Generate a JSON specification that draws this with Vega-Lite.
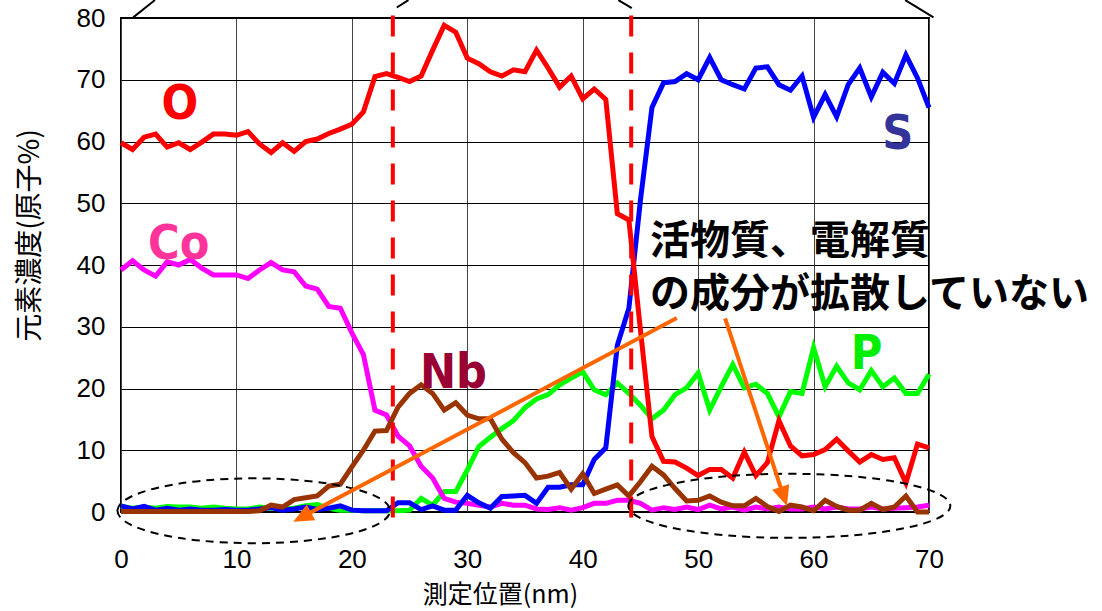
{
"$schema":"https://vega.github.io/schema/vega-lite/v6.json",
"width":808,"height":494,
"autosize":{"type":"none"},
"padding":{"left":121,"top":18,"right":173,"bottom":99},
"background":"white",
"config":{"view":{"stroke":"black","strokeWidth":2},"font":"Liberation Sans"},
"datasets":{
"series":[
{"x":0,"el":"P","v":0.9},{"x":1,"el":"P","v":0.6},{"x":2,"el":"P","v":0.8},{"x":3,"el":"P","v":0.6},{"x":4,"el":"P","v":0.9},{"x":5,"el":"P","v":0.8},{"x":6,"el":"P","v":0.8},{"x":7,"el":"P","v":0.6},{"x":8,"el":"P","v":0.8},{"x":9,"el":"P","v":0.6},
{"x":10,"el":"P","v":0.5},{"x":11,"el":"P","v":0.5},{"x":12,"el":"P","v":0.8},{"x":13,"el":"P","v":0.6},{"x":14,"el":"P","v":0.5},{"x":15,"el":"P","v":0.6},{"x":16,"el":"P","v":1.0},{"x":17,"el":"P","v":1.2},{"x":18,"el":"P","v":0.6},{"x":19,"el":"P","v":0.3},
{"x":20,"el":"P","v":0.3},{"x":21,"el":"P","v":0.2},{"x":22,"el":"P","v":0.2},{"x":23,"el":"P","v":0.2},{"x":24,"el":"P","v":0.2},{"x":25,"el":"P","v":0.3},{"x":26,"el":"P","v":2.2},{"x":27,"el":"P","v":1.1},{"x":28,"el":"P","v":3.3},{"x":29,"el":"P","v":3.3},
{"x":30,"el":"P","v":6.8},{"x":31,"el":"P","v":10.6},{"x":32,"el":"P","v":12.1},{"x":33,"el":"P","v":13.5},{"x":34,"el":"P","v":14.8},{"x":35,"el":"P","v":16.9},{"x":36,"el":"P","v":18.3},{"x":37,"el":"P","v":19.0},{"x":38,"el":"P","v":20.6},{"x":39,"el":"P","v":21.7},
{"x":40,"el":"P","v":22.7},{"x":41,"el":"P","v":19.8},{"x":42,"el":"P","v":19.0},{"x":43,"el":"P","v":20.9},{"x":44,"el":"P","v":19.2},{"x":45,"el":"P","v":17.3},{"x":46,"el":"P","v":15.1},{"x":47,"el":"P","v":16.5},{"x":48,"el":"P","v":19.0},{"x":49,"el":"P","v":20.1},
{"x":50,"el":"P","v":22.5},{"x":51,"el":"P","v":16.5},{"x":52,"el":"P","v":20.3},{"x":53,"el":"P","v":23.9},{"x":54,"el":"P","v":20.1},{"x":55,"el":"P","v":20.7},{"x":56,"el":"P","v":19.2},{"x":57,"el":"P","v":15.4},{"x":58,"el":"P","v":19.5},{"x":59,"el":"P","v":19.2},
{"x":60,"el":"P","v":26.6},{"x":61,"el":"P","v":20.3},{"x":62,"el":"P","v":23.6},{"x":63,"el":"P","v":20.9},{"x":64,"el":"P","v":19.8},{"x":65,"el":"P","v":22.9},{"x":66,"el":"P","v":20.3},{"x":67,"el":"P","v":21.7},{"x":68,"el":"P","v":19.2},{"x":69,"el":"P","v":19.2},{"x":70,"el":"P","v":22.3},
{"x":0,"el":"Co","v":39.2},{"x":1,"el":"Co","v":40.7},{"x":2,"el":"Co","v":39.2},{"x":3,"el":"Co","v":38.2},{"x":4,"el":"Co","v":40.5},{"x":5,"el":"Co","v":40.0},{"x":6,"el":"Co","v":40.9},{"x":7,"el":"Co","v":39.5},{"x":8,"el":"Co","v":38.4},{"x":9,"el":"Co","v":38.4},
{"x":10,"el":"Co","v":38.4},{"x":11,"el":"Co","v":37.8},{"x":12,"el":"Co","v":39.2},{"x":13,"el":"Co","v":40.4},{"x":14,"el":"Co","v":39.2},{"x":15,"el":"Co","v":38.9},{"x":16,"el":"Co","v":36.6},{"x":17,"el":"Co","v":36.1},{"x":18,"el":"Co","v":33.3},{"x":19,"el":"Co","v":33.0},
{"x":20,"el":"Co","v":29.0},{"x":21,"el":"Co","v":25.5},{"x":22,"el":"Co","v":16.5},{"x":23,"el":"Co","v":15.7},{"x":24,"el":"Co","v":12.3},{"x":25,"el":"Co","v":10.7},{"x":26,"el":"Co","v":7.4},{"x":27,"el":"Co","v":5.5},{"x":28,"el":"Co","v":2.2},{"x":29,"el":"Co","v":1.6},
{"x":30,"el":"Co","v":1.4},{"x":31,"el":"Co","v":1.1},{"x":32,"el":"Co","v":0.8},{"x":33,"el":"Co","v":1.4},{"x":34,"el":"Co","v":1.1},{"x":35,"el":"Co","v":1.1},{"x":36,"el":"Co","v":0.5},{"x":37,"el":"Co","v":0.4},{"x":38,"el":"Co","v":0.7},{"x":39,"el":"Co","v":0.3},
{"x":40,"el":"Co","v":0.7},{"x":41,"el":"Co","v":1.4},{"x":42,"el":"Co","v":1.4},{"x":43,"el":"Co","v":1.9},{"x":44,"el":"Co","v":1.9},{"x":45,"el":"Co","v":1.4},{"x":46,"el":"Co","v":0.3},{"x":47,"el":"Co","v":0.7},{"x":48,"el":"Co","v":0.4},{"x":49,"el":"Co","v":0.8},
{"x":50,"el":"Co","v":0.4},{"x":51,"el":"Co","v":1.1},{"x":52,"el":"Co","v":0.5},{"x":53,"el":"Co","v":0.8},{"x":54,"el":"Co","v":0.3},{"x":55,"el":"Co","v":0.8},{"x":56,"el":"Co","v":0.5},{"x":57,"el":"Co","v":0.8},{"x":58,"el":"Co","v":0.5},{"x":59,"el":"Co","v":0.5},
{"x":60,"el":"Co","v":0.8},{"x":61,"el":"Co","v":0.5},{"x":62,"el":"Co","v":0.8},{"x":63,"el":"Co","v":0.5},{"x":64,"el":"Co","v":0.5},{"x":65,"el":"Co","v":0.8},{"x":66,"el":"Co","v":0.5},{"x":67,"el":"Co","v":0.6},{"x":68,"el":"Co","v":0.7},{"x":69,"el":"Co","v":0.8},{"x":70,"el":"Co","v":1.1},
{"x":0,"el":"S","v":1.0},{"x":1,"el":"S","v":0.5},{"x":2,"el":"S","v":0.9},{"x":3,"el":"S","v":0.3},{"x":4,"el":"S","v":0.6},{"x":5,"el":"S","v":0.3},{"x":6,"el":"S","v":0.5},{"x":7,"el":"S","v":0.3},{"x":8,"el":"S","v":0.3},{"x":9,"el":"S","v":0.4},
{"x":10,"el":"S","v":0.3},{"x":11,"el":"S","v":0.3},{"x":12,"el":"S","v":0.5},{"x":13,"el":"S","v":0.7},{"x":14,"el":"S","v":0.3},{"x":15,"el":"S","v":0.5},{"x":16,"el":"S","v":0.8},{"x":17,"el":"S","v":0.4},{"x":18,"el":"S","v":0.6},{"x":19,"el":"S","v":1.0},
{"x":20,"el":"S","v":0.3},{"x":21,"el":"S","v":0.2},{"x":22,"el":"S","v":0.2},{"x":23,"el":"S","v":0.2},{"x":24,"el":"S","v":1.5},{"x":25,"el":"S","v":1.5},{"x":26,"el":"S","v":0.4},{"x":27,"el":"S","v":1.0},{"x":28,"el":"S","v":0.3},{"x":29,"el":"S","v":0.3},
{"x":30,"el":"S","v":2.7},{"x":31,"el":"S","v":1.5},{"x":32,"el":"S","v":0.6},{"x":33,"el":"S","v":2.5},{"x":34,"el":"S","v":2.6},{"x":35,"el":"S","v":2.7},{"x":36,"el":"S","v":1.4},{"x":37,"el":"S","v":4.0},{"x":38,"el":"S","v":4.0},{"x":39,"el":"S","v":4.4},
{"x":40,"el":"S","v":4.4},{"x":41,"el":"S","v":8.5},{"x":42,"el":"S","v":10.4},{"x":43,"el":"S","v":27.0},{"x":44,"el":"S","v":33.0},{"x":45,"el":"S","v":50.5},{"x":46,"el":"S","v":65.5},{"x":47,"el":"S","v":69.5},{"x":48,"el":"S","v":69.7},{"x":49,"el":"S","v":71.0},
{"x":50,"el":"S","v":70.0},{"x":51,"el":"S","v":73.6},{"x":52,"el":"S","v":70.0},{"x":53,"el":"S","v":69.2},{"x":54,"el":"S","v":68.5},{"x":55,"el":"S","v":71.9},{"x":56,"el":"S","v":72.1},{"x":57,"el":"S","v":69.2},{"x":58,"el":"S","v":68.3},{"x":59,"el":"S","v":70.6},
{"x":60,"el":"S","v":63.9},{"x":61,"el":"S","v":67.6},{"x":62,"el":"S","v":64.0},{"x":63,"el":"S","v":69.2},{"x":64,"el":"S","v":71.9},{"x":65,"el":"S","v":67.2},{"x":66,"el":"S","v":71.2},{"x":67,"el":"S","v":69.4},{"x":68,"el":"S","v":74.0},{"x":69,"el":"S","v":70.3},{"x":70,"el":"S","v":65.5},
{"x":0,"el":"Nb","v":0.1},{"x":1,"el":"Nb","v":0.1},{"x":2,"el":"Nb","v":0.1},{"x":3,"el":"Nb","v":0.1},{"x":4,"el":"Nb","v":0.1},{"x":5,"el":"Nb","v":0.1},{"x":6,"el":"Nb","v":0.1},{"x":7,"el":"Nb","v":0.1},{"x":8,"el":"Nb","v":0.1},{"x":9,"el":"Nb","v":0.1},
{"x":10,"el":"Nb","v":0.1},{"x":11,"el":"Nb","v":0.1},{"x":12,"el":"Nb","v":0.2},{"x":13,"el":"Nb","v":1.1},{"x":14,"el":"Nb","v":0.8},{"x":15,"el":"Nb","v":2.0},{"x":16,"el":"Nb","v":2.3},{"x":17,"el":"Nb","v":2.6},{"x":18,"el":"Nb","v":4.2},{"x":19,"el":"Nb","v":4.5},
{"x":20,"el":"Nb","v":7.3},{"x":21,"el":"Nb","v":10.0},{"x":22,"el":"Nb","v":13.1},{"x":23,"el":"Nb","v":13.2},{"x":24,"el":"Nb","v":17.0},{"x":25,"el":"Nb","v":19.2},{"x":26,"el":"Nb","v":20.6},{"x":27,"el":"Nb","v":19.2},{"x":28,"el":"Nb","v":16.5},{"x":29,"el":"Nb","v":17.7},
{"x":30,"el":"Nb","v":15.7},{"x":31,"el":"Nb","v":15.1},{"x":32,"el":"Nb","v":15.1},{"x":33,"el":"Nb","v":11.8},{"x":34,"el":"Nb","v":9.6},{"x":35,"el":"Nb","v":8.0},{"x":36,"el":"Nb","v":5.5},{"x":37,"el":"Nb","v":5.8},{"x":38,"el":"Nb","v":6.4},{"x":39,"el":"Nb","v":3.7},
{"x":40,"el":"Nb","v":6.2},{"x":41,"el":"Nb","v":3.0},{"x":42,"el":"Nb","v":3.7},{"x":43,"el":"Nb","v":4.4},{"x":44,"el":"Nb","v":2.6},{"x":45,"el":"Nb","v":4.9},{"x":46,"el":"Nb","v":7.4},{"x":47,"el":"Nb","v":6.0},{"x":48,"el":"Nb","v":3.8},{"x":49,"el":"Nb","v":1.8},
{"x":50,"el":"Nb","v":1.9},{"x":51,"el":"Nb","v":2.6},{"x":52,"el":"Nb","v":1.6},{"x":53,"el":"Nb","v":1.0},{"x":54,"el":"Nb","v":1.0},{"x":55,"el":"Nb","v":2.2},{"x":56,"el":"Nb","v":0.9},{"x":57,"el":"Nb","v":0.1},{"x":58,"el":"Nb","v":1.1},{"x":59,"el":"Nb","v":0.8},
{"x":60,"el":"Nb","v":0.2},{"x":61,"el":"Nb","v":1.9},{"x":62,"el":"Nb","v":0.9},{"x":63,"el":"Nb","v":0.3},{"x":64,"el":"Nb","v":0.3},{"x":65,"el":"Nb","v":1.4},{"x":66,"el":"Nb","v":0.4},{"x":67,"el":"Nb","v":0.8},{"x":68,"el":"Nb","v":2.6},{"x":69,"el":"Nb","v":0.0},{"x":70,"el":"Nb","v":0.0},
{"x":0,"el":"O","v":59.8},{"x":1,"el":"O","v":58.7},{"x":2,"el":"O","v":60.7},{"x":3,"el":"O","v":61.2},{"x":4,"el":"O","v":59.1},{"x":5,"el":"O","v":59.8},{"x":6,"el":"O","v":58.7},{"x":7,"el":"O","v":59.9},{"x":8,"el":"O","v":61.2},{"x":9,"el":"O","v":61.2},
{"x":10,"el":"O","v":61.0},{"x":11,"el":"O","v":61.6},{"x":12,"el":"O","v":59.6},{"x":13,"el":"O","v":58.2},{"x":14,"el":"O","v":59.8},{"x":15,"el":"O","v":58.4},{"x":16,"el":"O","v":60.0},{"x":17,"el":"O","v":60.4},{"x":18,"el":"O","v":61.3},{"x":19,"el":"O","v":62.0},
{"x":20,"el":"O","v":62.8},{"x":21,"el":"O","v":64.8},{"x":22,"el":"O","v":70.5},{"x":23,"el":"O","v":71.0},{"x":24,"el":"O","v":70.4},{"x":25,"el":"O","v":69.7},{"x":26,"el":"O","v":70.6},{"x":27,"el":"O","v":74.8},{"x":28,"el":"O","v":78.8},{"x":29,"el":"O","v":77.7},
{"x":30,"el":"O","v":73.5},{"x":31,"el":"O","v":72.6},{"x":32,"el":"O","v":71.3},{"x":33,"el":"O","v":70.6},{"x":34,"el":"O","v":71.6},{"x":35,"el":"O","v":71.3},{"x":36,"el":"O","v":74.8},{"x":37,"el":"O","v":71.9},{"x":38,"el":"O","v":68.8},{"x":39,"el":"O","v":70.6},
{"x":40,"el":"O","v":66.9},{"x":41,"el":"O","v":68.5},{"x":42,"el":"O","v":66.8},{"x":43,"el":"O","v":48.3},{"x":44,"el":"O","v":47.3},{"x":45,"el":"O","v":29.5},{"x":46,"el":"O","v":12.2},{"x":47,"el":"O","v":8.2},{"x":48,"el":"O","v":8.1},{"x":49,"el":"O","v":7.1},
{"x":50,"el":"O","v":5.9},{"x":51,"el":"O","v":6.9},{"x":52,"el":"O","v":6.9},{"x":53,"el":"O","v":5.5},{"x":54,"el":"O","v":9.7},{"x":55,"el":"O","v":5.9},{"x":56,"el":"O","v":8.0},{"x":57,"el":"O","v":14.8},{"x":58,"el":"O","v":10.7},{"x":59,"el":"O","v":9.1},
{"x":60,"el":"O","v":9.3},{"x":61,"el":"O","v":10.1},{"x":62,"el":"O","v":11.8},{"x":63,"el":"O","v":9.9},{"x":64,"el":"O","v":8.1},{"x":65,"el":"O","v":9.3},{"x":66,"el":"O","v":8.5},{"x":67,"el":"O","v":8.8},{"x":68,"el":"O","v":4.7},{"x":69,"el":"O","v":11.0},{"x":70,"el":"O","v":10.4}
],
"dividers":[{"x":23.55},{"x":44.2}],
"arrows":[{"x":48.15,"v":31.4,"x2":15.69,"v2":-0.81},{"x":52.34,"v":31.37,"x2":57.41,"v2":2.51}],
"frame":[{"x":1.06,"v":80.1,"x2":2.94,"v2":82.9},{"x":23.89,"v":81.7,"x2":24.9,"v2":82.9},{"x":43.09,"v":82.9,"x2":44.25,"v2":81.6},{"x":67.94,"v":82.9,"x2":70.39,"v2":80.1}],
"labels":[{"x":5.1,"v":65.9,"label":"O","tag":"O"},{"x":5.0,"v":43.2,"label":"Co","tag":"Co"},{"x":28.8,"v":22.3,"label":"Nb","tag":"Nb"},{"x":67.3,"v":61.0,"label":"S","tag":"S"},{"x":64.6,"v":25.4,"label":"P","tag":"P"}],
"note":[{"x":45.84,"v":43.7,"text":"活物質、電解質"},{"x":45.84,"v":35.1,"text":"の成分が拡散していない"}]
},
"resolve":{"scale":{"color":"independent"}},
"layer":[
{"data":{"name":"series"},
 "mark":{"type":"line","strokeWidth":5},
 "encoding":{
  "x":{"field":"x","type":"quantitative","scale":{"domain":[0,70],"nice":false,"zero":false},
   "axis":{"values":[0,10,20,30,40,50,60,70],"title":"測定位置(nm)","titleFont":"Noto Sans CJK JP","titleFontSize":25,"titleFontWeight":"normal","titleColor":"black","titleX":379,"titleY":82,"titleAlign":"center","titleBaseline":"middle","labelFont":"Liberation Sans","labelFontSize":26,"labelColor":"black","labelPadding":34,"ticks":false,"tickSize":0,"domain":false,"grid":true,"gridColor":"#444","gridOpacity":1,"gridWidth":1,"labelFlush":false}},
  "y":{"field":"v","type":"quantitative","scale":{"domain":[0,80],"nice":false,"zero":false},
   "axis":{"values":[0,10,20,30,40,50,60,70,80],"title":"元素濃度(原子%)","titleFont":"Noto Sans CJK JP","titleFontSize":28,"titleFontWeight":"normal","titleColor":"black","titleX":-91,"titleY":217,"titleAngle":-90,"titleAlign":"center","titleBaseline":"middle","labelFont":"Liberation Sans","labelFontSize":26,"labelColor":"black","labelPadding":16,"ticks":false,"tickSize":0,"domain":false,"grid":true,"gridColor":"#000","gridOpacity":1,"gridWidth":1,"labelFlush":false}},
  "color":{"field":"el","type":"nominal","scale":{"domain":["P","Co","S","Nb","O"],"range":["#00FF00","#FF00FF","#0000FF","#993300","#FF0000"]},"legend":null},
  "order":{"field":"x","type":"quantitative"}
 }},
{"data":{"name":"dividers"},
 "mark":{"type":"rule","color":"#FF0000","strokeWidth":4,"strokeDash":[21,16]},
 "encoding":{"x":{"field":"x","type":"quantitative"},"y":{"datum":80.4},"y2":{"datum":-1.5}}},
{"data":{"values":[{"x":11.5,"v":0.2}]},
 "mark":{"type":"point","shape":"M -1 0 A 1 0.238 0 1 1 1 0 A 1 0.238 0 1 1 -1 0 Z","size":74300,"filled":false,"stroke":"black","strokeWidth":2,"strokeDash":[8,6],"opacity":1},
 "encoding":{"x":{"field":"x","type":"quantitative"},"y":{"field":"v","type":"quantitative"}}},
{"data":{"values":[{"x":57.9,"v":1.0}]},
 "mark":{"type":"point","shape":"M -1 0 A 1 0.199 0 1 1 1 0 A 1 0.199 0 1 1 -1 0 Z","size":103684,"filled":false,"stroke":"black","strokeWidth":2,"strokeDash":[8,6],"opacity":1},
 "encoding":{"x":{"field":"x","type":"quantitative"},"y":{"field":"v","type":"quantitative"}}},
{"data":{"name":"arrows"},
 "mark":{"type":"rule","color":"#FF6600","strokeWidth":4},
 "encoding":{"x":{"field":"x","type":"quantitative"},"y":{"field":"v","type":"quantitative"},"x2":{"field":"x2"},"y2":{"field":"v2"}}},
{"data":{"values":[{"x":14.93,"v":-1.57}]},
 "mark":{"type":"point","shape":"M 0 0 L -0.45 1 L 0.45 1 Z","size":1600,"filled":true,"color":"#FF6600","opacity":1,"angle":242.1},
 "encoding":{"x":{"field":"x","type":"quantitative"},"y":{"field":"v","type":"quantitative"}}},
{"data":{"values":[{"x":57.69,"v":0.97}]},
 "mark":{"type":"point","shape":"M 0 0 L -0.45 1 L 0.45 1 Z","size":1600,"filled":true,"color":"#FF6600","opacity":1,"angle":161.8},
 "encoding":{"x":{"field":"x","type":"quantitative"},"y":{"field":"v","type":"quantitative"}}},
{"data":{"name":"frame"},
 "mark":{"type":"rule","color":"black","strokeWidth":2},
 "encoding":{"x":{"field":"x","type":"quantitative"},"y":{"field":"v","type":"quantitative"},"x2":{"field":"x2"},"y2":{"field":"v2"}}},
{"data":{"name":"labels"},
 "mark":{"type":"text","font":"Liberation Sans Narrow, DejaVu Sans Condensed, sans-serif","fontSize":48,"fontWeight":"bold","align":"center","baseline":"middle"},
 "encoding":{"x":{"field":"x","type":"quantitative"},"y":{"field":"v","type":"quantitative"},"text":{"field":"label"},
  "color":{"field":"tag","type":"nominal","scale":{"domain":["O","Co","Nb","S","P"],"range":["#FF0000","#FF3399","#990033","#333399","#00EE00"]},"legend":null}}},
{"data":{"name":"note"},
 "mark":{"type":"text","font":"Noto Sans CJK JP","fontSize":40,"fontWeight":"bold","align":"left","baseline":"middle","color":"black"},
 "encoding":{"x":{"field":"x","type":"quantitative"},"y":{"field":"v","type":"quantitative"},"text":{"field":"text"}}}
]
}
